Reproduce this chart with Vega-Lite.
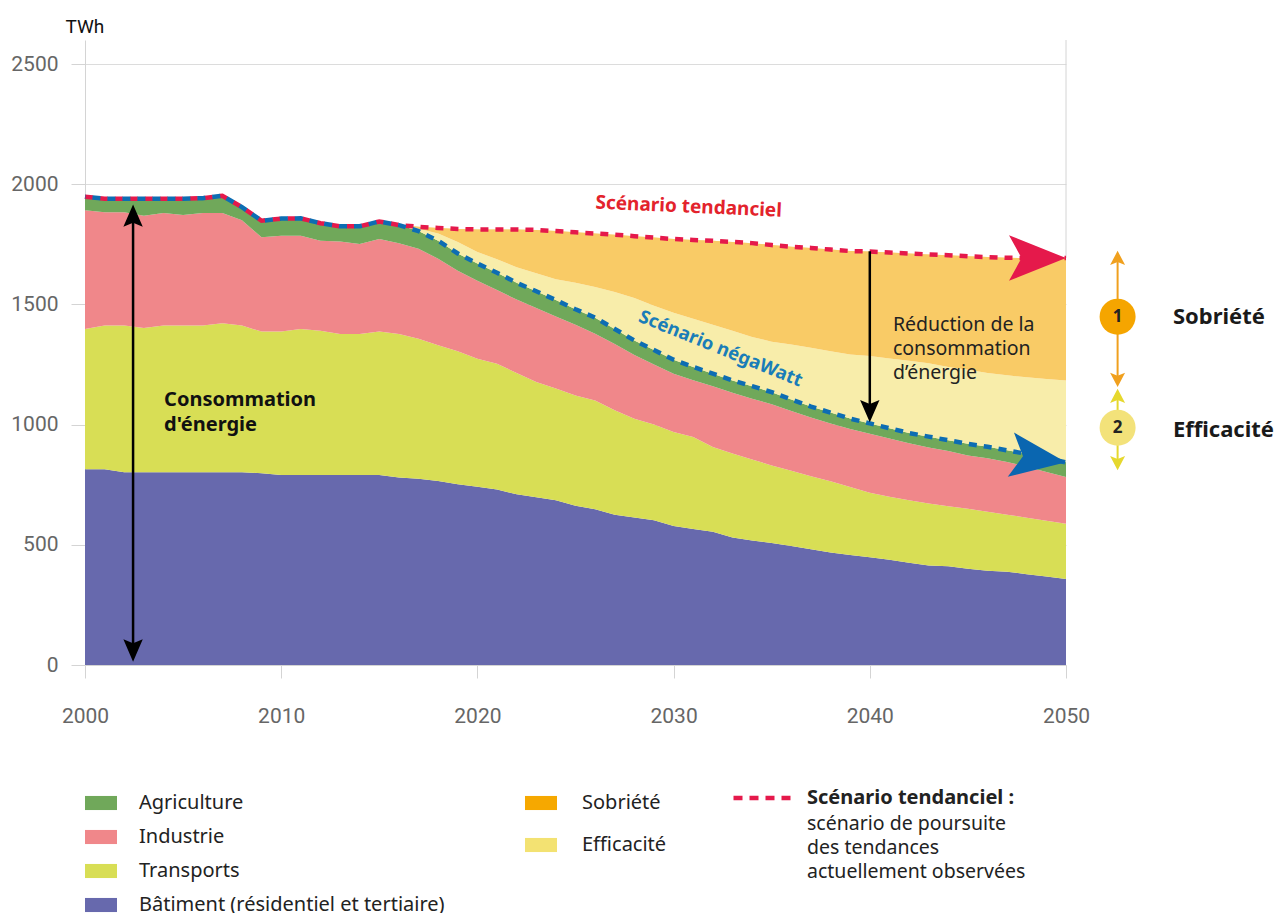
{
  "$schema": "https://vega.github.io/schema/vega-lite/v6.json",
  "width": 981,
  "height": 625,
  "autosize": {"type": "none"},
  "padding": {"left": 85, "top": 40, "right": 216, "bottom": 248},
  "background": "white",
  "config": {
    "view": {"stroke": null},
    "font": "Noto Sans",
    "legend": {"padding": 0, "labelFont": "Noto Sans", "labelFontSize": 20, "labelColor": "#222222", "labelLimit": 500, "symbolStrokeWidth": 0}
  },
  "data": {"values": [
    {"year": 2000, "bat_top": 814, "tra_top": 1398, "ind_top": 1892, "negawatt": 1948, "eff_top": 1948, "tendanciel": 1948},
    {"year": 2001, "bat_top": 814, "tra_top": 1412, "ind_top": 1883, "negawatt": 1940, "eff_top": 1940, "tendanciel": 1940},
    {"year": 2002, "bat_top": 802, "tra_top": 1412, "ind_top": 1883, "negawatt": 1940, "eff_top": 1940, "tendanciel": 1940},
    {"year": 2003, "bat_top": 802, "tra_top": 1402, "ind_top": 1869, "negawatt": 1940, "eff_top": 1940, "tendanciel": 1940},
    {"year": 2004, "bat_top": 802, "tra_top": 1412, "ind_top": 1880, "negawatt": 1940, "eff_top": 1940, "tendanciel": 1940},
    {"year": 2005, "bat_top": 802, "tra_top": 1412, "ind_top": 1872, "negawatt": 1940, "eff_top": 1940, "tendanciel": 1940},
    {"year": 2006, "bat_top": 802, "tra_top": 1412, "ind_top": 1880, "negawatt": 1942, "eff_top": 1942, "tendanciel": 1942},
    {"year": 2007, "bat_top": 802, "tra_top": 1422, "ind_top": 1880, "negawatt": 1952, "eff_top": 1952, "tendanciel": 1952},
    {"year": 2008, "bat_top": 802, "tra_top": 1412, "ind_top": 1850, "negawatt": 1905, "eff_top": 1905, "tendanciel": 1905},
    {"year": 2009, "bat_top": 798, "tra_top": 1387, "ind_top": 1779, "negawatt": 1848, "eff_top": 1848, "tendanciel": 1848},
    {"year": 2010, "bat_top": 790, "tra_top": 1387, "ind_top": 1786, "negawatt": 1857, "eff_top": 1857, "tendanciel": 1857},
    {"year": 2011, "bat_top": 790, "tra_top": 1398, "ind_top": 1786, "negawatt": 1858, "eff_top": 1858, "tendanciel": 1858},
    {"year": 2012, "bat_top": 790, "tra_top": 1391, "ind_top": 1765, "negawatt": 1838, "eff_top": 1838, "tendanciel": 1838},
    {"year": 2013, "bat_top": 790, "tra_top": 1377, "ind_top": 1762, "negawatt": 1825, "eff_top": 1825, "tendanciel": 1825},
    {"year": 2014, "bat_top": 790, "tra_top": 1377, "ind_top": 1751, "negawatt": 1825, "eff_top": 1825, "tendanciel": 1825},
    {"year": 2015, "bat_top": 790, "tra_top": 1387, "ind_top": 1772, "negawatt": 1845, "eff_top": 1845, "tendanciel": 1845},
    {"year": 2016, "bat_top": 780, "tra_top": 1377, "ind_top": 1755, "negawatt": 1830, "eff_top": 1830, "tendanciel": 1830},
    {"year": 2017, "bat_top": 775, "tra_top": 1357, "ind_top": 1732, "negawatt": 1805, "eff_top": 1815, "tendanciel": 1823},
    {"year": 2018, "bat_top": 765, "tra_top": 1330, "ind_top": 1690, "negawatt": 1765, "eff_top": 1795, "tendanciel": 1818},
    {"year": 2019, "bat_top": 752, "tra_top": 1305, "ind_top": 1640, "negawatt": 1712, "eff_top": 1760, "tendanciel": 1814},
    {"year": 2020, "bat_top": 742, "tra_top": 1274, "ind_top": 1598, "negawatt": 1670, "eff_top": 1718, "tendanciel": 1812},
    {"year": 2021, "bat_top": 730, "tra_top": 1253, "ind_top": 1560, "negawatt": 1632, "eff_top": 1688, "tendanciel": 1812},
    {"year": 2022, "bat_top": 710, "tra_top": 1215, "ind_top": 1520, "negawatt": 1590, "eff_top": 1655, "tendanciel": 1812},
    {"year": 2023, "bat_top": 698, "tra_top": 1177, "ind_top": 1485, "negawatt": 1555, "eff_top": 1630, "tendanciel": 1810},
    {"year": 2024, "bat_top": 685, "tra_top": 1150, "ind_top": 1450, "negawatt": 1518, "eff_top": 1605, "tendanciel": 1805},
    {"year": 2025, "bat_top": 662, "tra_top": 1121, "ind_top": 1415, "negawatt": 1480, "eff_top": 1590, "tendanciel": 1800},
    {"year": 2026, "bat_top": 648, "tra_top": 1100, "ind_top": 1378, "negawatt": 1445, "eff_top": 1572, "tendanciel": 1795},
    {"year": 2027, "bat_top": 625, "tra_top": 1060, "ind_top": 1335, "negawatt": 1398, "eff_top": 1552, "tendanciel": 1790},
    {"year": 2028, "bat_top": 614, "tra_top": 1024, "ind_top": 1290, "negawatt": 1350, "eff_top": 1527, "tendanciel": 1784},
    {"year": 2029, "bat_top": 602, "tra_top": 1000, "ind_top": 1250, "negawatt": 1310, "eff_top": 1494, "tendanciel": 1778},
    {"year": 2030, "bat_top": 578, "tra_top": 969, "ind_top": 1212, "negawatt": 1270, "eff_top": 1465, "tendanciel": 1772},
    {"year": 2031, "bat_top": 566, "tra_top": 948, "ind_top": 1185, "negawatt": 1240, "eff_top": 1440, "tendanciel": 1768},
    {"year": 2032, "bat_top": 554, "tra_top": 907, "ind_top": 1160, "negawatt": 1212, "eff_top": 1415, "tendanciel": 1765},
    {"year": 2033, "bat_top": 530, "tra_top": 880, "ind_top": 1133, "negawatt": 1184, "eff_top": 1391, "tendanciel": 1760},
    {"year": 2034, "bat_top": 518, "tra_top": 855, "ind_top": 1108, "negawatt": 1160, "eff_top": 1365, "tendanciel": 1755},
    {"year": 2035, "bat_top": 508, "tra_top": 830, "ind_top": 1085, "negawatt": 1135, "eff_top": 1345, "tendanciel": 1747},
    {"year": 2036, "bat_top": 495, "tra_top": 808, "ind_top": 1057, "negawatt": 1105, "eff_top": 1333, "tendanciel": 1740},
    {"year": 2037, "bat_top": 482, "tra_top": 785, "ind_top": 1030, "negawatt": 1075, "eff_top": 1320, "tendanciel": 1735},
    {"year": 2038, "bat_top": 468, "tra_top": 764, "ind_top": 1005, "negawatt": 1050, "eff_top": 1305, "tendanciel": 1728},
    {"year": 2039, "bat_top": 458, "tra_top": 740, "ind_top": 982, "negawatt": 1025, "eff_top": 1292, "tendanciel": 1722},
    {"year": 2040, "bat_top": 448, "tra_top": 717, "ind_top": 962, "negawatt": 1005, "eff_top": 1285, "tendanciel": 1720},
    {"year": 2041, "bat_top": 438, "tra_top": 700, "ind_top": 942, "negawatt": 985, "eff_top": 1275, "tendanciel": 1716},
    {"year": 2042, "bat_top": 425, "tra_top": 685, "ind_top": 922, "negawatt": 965, "eff_top": 1266, "tendanciel": 1712},
    {"year": 2043, "bat_top": 414, "tra_top": 672, "ind_top": 905, "negawatt": 950, "eff_top": 1255, "tendanciel": 1708},
    {"year": 2044, "bat_top": 411, "tra_top": 660, "ind_top": 890, "negawatt": 935, "eff_top": 1240, "tendanciel": 1705},
    {"year": 2045, "bat_top": 400, "tra_top": 650, "ind_top": 872, "negawatt": 920, "eff_top": 1228, "tendanciel": 1700},
    {"year": 2046, "bat_top": 392, "tra_top": 638, "ind_top": 860, "negawatt": 908, "eff_top": 1215, "tendanciel": 1697},
    {"year": 2047, "bat_top": 388, "tra_top": 625, "ind_top": 845, "negawatt": 893, "eff_top": 1205, "tendanciel": 1694},
    {"year": 2048, "bat_top": 378, "tra_top": 613, "ind_top": 825, "negawatt": 878, "eff_top": 1197, "tendanciel": 1693},
    {"year": 2049, "bat_top": 368, "tra_top": 600, "ind_top": 803, "negawatt": 860, "eff_top": 1190, "tendanciel": 1693},
    {"year": 2050, "bat_top": 358, "tra_top": 588, "ind_top": 782, "negawatt": 843, "eff_top": 1184, "tendanciel": 1693}
  ]},
  "layer": [
    {
      "mark": {"type": "area", "opacity": 1},
      "encoding": {
        "x": {"field": "year", "type": "quantitative",
          "scale": {"domain": [2000, 2050], "nice": false, "zero": false},
          "axis": {"title": null, "values": [2000, 2010, 2020, 2030, 2040, 2050], "format": "d", "grid": false,
            "labelFont": "Roboto", "labelFontSize": 21, "labelColor": "#666666", "labelPadding": 27,
            "tickSize": 13, "tickColor": "#d4d4d4", "domainColor": "#d4d4d4", "labelFlush": false}},
        "y": {"field": "bat_top", "type": "quantitative",
          "scale": {"domain": [0, 2600], "nice": false},
          "axis": {"title": "TWh", "values": [0, 500, 1000, 1500, 2000, 2500], "format": "d", "grid": true, "gridColor": "#dcdcdc",
            "labelFont": "Roboto", "labelFontSize": 21, "labelColor": "#666666", "labelPadding": 13,
            "tickSize": 14, "tickColor": "#d4d4d4", "domainColor": "#d4d4d4",
            "titleAngle": 0, "titleAlign": "left", "titleBaseline": "alphabetic", "titleX": -20, "titleY": -8,
            "titleFont": "Roboto", "titleFontSize": 19, "titleFontWeight": "normal", "titleColor": "#111111"}},
        "y2": {"datum": 0},
        "fill": {"datum": "Bâtiment (résidentiel et tertiaire)",
          "scale": {"domain": ["Agriculture", "Industrie", "Transports", "Bâtiment (résidentiel et tertiaire)"],
            "range": ["#70a85a", "#f0878a", "#d8de55", "#6769ad"]},
          "legend": {"title": null, "orient": "none", "legendX": 0, "legendY": 747,
            "symbolType": "M-1,-0.44 L1,-0.44 L1,0.44 L-1,0.44 Z", "symbolSize": 1024,
            "labelOffset": 22, "rowPadding": 8}}
      }
    },
    {
      "mark": {"type": "area", "opacity": 1},
      "encoding": {
        "x": {"field": "year", "type": "quantitative"},
        "y": {"field": "tra_top", "type": "quantitative"},
        "y2": {"field": "bat_top"},
        "fill": {"datum": "Transports"}
      }
    },
    {
      "mark": {"type": "area", "opacity": 1},
      "encoding": {
        "x": {"field": "year", "type": "quantitative"},
        "y": {"field": "ind_top", "type": "quantitative"},
        "y2": {"field": "tra_top"},
        "fill": {"datum": "Industrie"}
      }
    },
    {
      "mark": {"type": "area", "opacity": 1},
      "encoding": {
        "x": {"field": "year", "type": "quantitative"},
        "y": {"field": "negawatt", "type": "quantitative"},
        "y2": {"field": "ind_top"},
        "fill": {"datum": "Agriculture"}
      }
    },
    {
      "mark": {"type": "area"},
      "encoding": {
        "x": {"field": "year", "type": "quantitative"},
        "y": {"field": "eff_top", "type": "quantitative"},
        "y2": {"field": "negawatt"},
        "color": {"datum": "Efficacité",
          "scale": {"domain": ["Sobriété", "Efficacité"], "range": ["#f6a800", "#f3e272"]},
          "legend": {"title": null, "orient": "none", "legendX": 440, "legendY": 747,
            "symbolType": "M-1,-0.44 L1,-0.44 L1,0.44 L-1,0.44 Z", "symbolSize": 1024,
            "labelOffset": 25, "rowPadding": 16}}
      }
    },
    {
      "mark": {"type": "area"},
      "encoding": {
        "x": {"field": "year", "type": "quantitative"},
        "y": {"field": "tendanciel", "type": "quantitative"},
        "y2": {"field": "eff_top"},
        "color": {"datum": "Sobriété"}
      }
    },
    {
      "mark": {"type": "area", "color": "#ffffff", "opacity": 0.4},
      "encoding": {
        "x": {"field": "year", "type": "quantitative"},
        "y": {"field": "tendanciel", "type": "quantitative"},
        "y2": {"field": "negawatt"}
      }
    },
    {
      "data": {"values": [{}]},
      "mark": {"type": "rule", "color": "#d4d4d4", "strokeWidth": 1},
      "encoding": {
        "x": {"datum": 2050, "type": "quantitative"},
        "y": {"datum": 1693, "type": "quantitative"},
        "y2": {"datum": 2600}
      }
    },
    {
      "mark": {"type": "line", "strokeWidth": 4.5, "strokeDash": [8, 7]},
      "encoding": {
        "x": {"field": "year", "type": "quantitative"},
        "y": {"field": "tendanciel", "type": "quantitative"},
        "stroke": {"datum": "Scénario tendanciel",
          "scale": {"domain": ["Scénario tendanciel"], "range": ["#e5194b"]},
          "legend": {"title": null, "orient": "none", "legendX": 646, "legendY": 726,
            "symbolType": "stroke", "symbolSize": 3481, "symbolStrokeWidth": 4.5, "symbolDash": [9, 7],
            "labelOffset": 12, "labelFontWeight": "bold", "labelExpr": "datum.label + ' :'"}}
      }
    },
    {
      "mark": {"type": "line", "strokeWidth": 4.5, "strokeDash": [8, 7], "strokeDashOffset": 7.5, "color": "#0d6db3"},
      "encoding": {
        "x": {"field": "year", "type": "quantitative"},
        "y": {"field": "negawatt", "type": "quantitative"}
      }
    },
    {
      "data": {"values": [{}]},
      "mark": {"type": "point", "filled": true, "opacity": 1, "strokeWidth": 0, "color": "#e5194b",
        "shape": "M0,0 L-2,-0.8 L-1.56,0 L-2,0.8 Z", "size": 3249},
      "encoding": {
        "x": {"datum": 2050, "type": "quantitative"},
        "y": {"datum": 1693, "type": "quantitative"}
      }
    },
    {
      "data": {"values": [{}]},
      "mark": {"type": "point", "filled": true, "opacity": 1, "strokeWidth": 0, "color": "#0a66b0",
        "shape": "M0,0 L-2,-0.8 L-1.56,0 L-2,0.8 Z", "size": 3100, "angle": 8},
      "encoding": {
        "x": {"datum": 2050, "type": "quantitative"},
        "y": {"datum": 843, "type": "quantitative"}
      }
    },
    {
      "data": {"values": [{}]},
      "mark": {"type": "rule", "color": "#000000", "strokeWidth": 2.5},
      "encoding": {
        "x": {"datum": 2002.45, "type": "quantitative"},
        "y": {"datum": 40, "type": "quantitative"},
        "y2": {"datum": 1890}
      }
    },
    {
      "data": {"values": [{}]},
      "mark": {"type": "point", "filled": true, "opacity": 1, "strokeWidth": 0, "color": "#000000",
        "shape": "M0,0 L0.97,2.23 L0,1.83 L-0.97,2.23 Z", "size": 400},
      "encoding": {
        "x": {"datum": 2002.45, "type": "quantitative"},
        "y": {"datum": 1916, "type": "quantitative"}
      }
    },
    {
      "data": {"values": [{}]},
      "mark": {"type": "point", "filled": true, "opacity": 1, "strokeWidth": 0, "color": "#000000",
        "shape": "M0,0 L0.97,-2.23 L0,-1.83 L-0.97,-2.23 Z", "size": 400},
      "encoding": {
        "x": {"datum": 2002.45, "type": "quantitative"},
        "y": {"datum": 14, "type": "quantitative"}
      }
    },
    {
      "data": {"values": [{}]},
      "mark": {"type": "rule", "color": "#000000", "strokeWidth": 2.5},
      "encoding": {
        "x": {"datum": 2040, "type": "quantitative"},
        "y": {"datum": 1030, "type": "quantitative"},
        "y2": {"datum": 1721}
      }
    },
    {
      "data": {"values": [{}]},
      "mark": {"type": "point", "filled": true, "opacity": 1, "strokeWidth": 0, "color": "#000000",
        "shape": "M0,0 L0.97,-2.23 L0,-1.83 L-0.97,-2.23 Z", "size": 400},
      "encoding": {
        "x": {"datum": 2040, "type": "quantitative"},
        "y": {"datum": 1010, "type": "quantitative"}
      }
    },
    {
      "data": {"values": [{}]},
      "mark": {"type": "rule", "color": "#f0a01e", "strokeWidth": 2},
      "encoding": {
        "x": {"datum": 2052.63, "type": "quantitative"},
        "y": {"datum": 1180, "type": "quantitative"},
        "y2": {"datum": 1700}
      }
    },
    {
      "data": {"values": [{}]},
      "mark": {"type": "point", "filled": true, "opacity": 1, "strokeWidth": 0, "color": "#f0a01e",
        "shape": "M0,0 L1,1.9 L0,1.5 L-1,1.9 Z", "size": 225},
      "encoding": {
        "x": {"datum": 2052.63, "type": "quantitative"},
        "y": {"datum": 1723, "type": "quantitative"}
      }
    },
    {
      "data": {"values": [{}]},
      "mark": {"type": "point", "filled": true, "opacity": 1, "strokeWidth": 0, "color": "#f0a01e",
        "shape": "M0,0 L1,-1.9 L0,-1.5 L-1,-1.9 Z", "size": 225},
      "encoding": {
        "x": {"datum": 2052.63, "type": "quantitative"},
        "y": {"datum": 1156, "type": "quantitative"}
      }
    },
    {
      "data": {"values": [{}]},
      "mark": {"type": "rule", "color": "#e6d82e", "strokeWidth": 2},
      "encoding": {
        "x": {"datum": 2052.63, "type": "quantitative"},
        "y": {"datum": 830, "type": "quantitative"},
        "y2": {"datum": 1125}
      }
    },
    {
      "data": {"values": [{}]},
      "mark": {"type": "point", "filled": true, "opacity": 1, "strokeWidth": 0, "color": "#e6d82e",
        "shape": "M0,0 L1,1.9 L0,1.5 L-1,1.9 Z", "size": 225},
      "encoding": {
        "x": {"datum": 2052.63, "type": "quantitative"},
        "y": {"datum": 1149, "type": "quantitative"}
      }
    },
    {
      "data": {"values": [{}]},
      "mark": {"type": "point", "filled": true, "opacity": 1, "strokeWidth": 0, "color": "#e6d82e",
        "shape": "M0,0 L1,-1.9 L0,-1.5 L-1,-1.9 Z", "size": 225},
      "encoding": {
        "x": {"datum": 2052.63, "type": "quantitative"},
        "y": {"datum": 810, "type": "quantitative"}
      }
    },
    {
      "data": {"values": [{}]},
      "mark": {"type": "point", "filled": true, "opacity": 1, "strokeWidth": 0, "color": "#f5a500", "shape": "circle", "size": 1296},
      "encoding": {
        "x": {"datum": 2052.63, "type": "quantitative"},
        "y": {"datum": 1449, "type": "quantitative"}
      }
    },
    {
      "data": {"values": [{}]},
      "mark": {"type": "point", "filled": true, "opacity": 1, "strokeWidth": 0, "color": "#f3e27a", "shape": "circle", "size": 1296},
      "encoding": {
        "x": {"datum": 2052.63, "type": "quantitative"},
        "y": {"datum": 987, "type": "quantitative"}
      }
    },
    {
      "data": {"values": [{}]},
      "mark": {"type": "text", "text": "1", "font": "Noto Sans", "fontSize": 17, "fontWeight": "bold", "color": "#222222", "align": "center", "baseline": "middle"},
      "encoding": {
        "x": {"datum": 2052.63, "type": "quantitative"},
        "y": {"datum": 1449, "type": "quantitative"}
      }
    },
    {
      "data": {"values": [{}]},
      "mark": {"type": "text", "text": "2", "font": "Noto Sans", "fontSize": 17, "fontWeight": "bold", "color": "#222222", "align": "center", "baseline": "middle"},
      "encoding": {
        "x": {"datum": 2052.63, "type": "quantitative"},
        "y": {"datum": 987, "type": "quantitative"}
      }
    },
    {
      "data": {"values": [{}]},
      "mark": {"type": "text", "text": "Sobriété", "font": "Noto Sans", "fontSize": 22, "fontWeight": "bold", "color": "#1a1a1a", "align": "left", "baseline": "middle"},
      "encoding": {
        "x": {"datum": 2055.45, "type": "quantitative"},
        "y": {"datum": 1446, "type": "quantitative"}
      }
    },
    {
      "data": {"values": [{}]},
      "mark": {"type": "text", "text": "Efficacité", "font": "Noto Sans", "fontSize": 22, "fontWeight": "bold", "color": "#1a1a1a", "align": "left", "baseline": "middle"},
      "encoding": {
        "x": {"datum": 2055.45, "type": "quantitative"},
        "y": {"datum": 978, "type": "quantitative"}
      }
    },
    {
      "data": {"values": [{}]},
      "mark": {"type": "text", "text": "Consommation", "font": "Noto Sans", "fontSize": 20, "fontWeight": "bold", "color": "#111111", "align": "left", "baseline": "alphabetic"},
      "encoding": {
        "x": {"datum": 2004.03, "type": "quantitative"},
        "y": {"datum": 1077, "type": "quantitative"}
      }
    },
    {
      "data": {"values": [{}]},
      "mark": {"type": "text", "text": "d'énergie", "font": "Noto Sans", "fontSize": 20, "fontWeight": "bold", "color": "#111111", "align": "left", "baseline": "alphabetic"},
      "encoding": {
        "x": {"datum": 2004.03, "type": "quantitative"},
        "y": {"datum": 973, "type": "quantitative"}
      }
    },
    {
      "data": {"values": [{}]},
      "mark": {"type": "text", "text": "Réduction de la", "font": "Noto Sans", "fontSize": 19.5, "fontWeight": "normal", "color": "#222222", "align": "left", "baseline": "alphabetic"},
      "encoding": {
        "x": {"datum": 2041.18, "type": "quantitative"},
        "y": {"datum": 1391, "type": "quantitative"}
      }
    },
    {
      "data": {"values": [{}]},
      "mark": {"type": "text", "text": "consommation", "font": "Noto Sans", "fontSize": 19.5, "fontWeight": "normal", "color": "#222222", "align": "left", "baseline": "alphabetic"},
      "encoding": {
        "x": {"datum": 2041.18, "type": "quantitative"},
        "y": {"datum": 1291, "type": "quantitative"}
      }
    },
    {
      "data": {"values": [{}]},
      "mark": {"type": "text", "text": "d’énergie", "font": "Noto Sans", "fontSize": 19.5, "fontWeight": "normal", "color": "#222222", "align": "left", "baseline": "alphabetic"},
      "encoding": {
        "x": {"datum": 2041.18, "type": "quantitative"},
        "y": {"datum": 1191, "type": "quantitative"}
      }
    },
    {
      "data": {"values": [{}]},
      "mark": {"type": "text", "text": "Scénario tendanciel", "font": "Noto Sans", "fontSize": 19, "fontWeight": "bold", "color": "#e3232c", "align": "center", "baseline": "middle", "angle": 2.5},
      "encoding": {
        "x": {"datum": 2030.77, "type": "quantitative"},
        "y": {"datum": 1907, "type": "quantitative"}
      }
    },
    {
      "data": {"values": [{}]},
      "mark": {"type": "text", "text": "Scénario négaWatt", "font": "Noto Sans", "fontSize": 18.5, "fontWeight": "bold", "color": "#1a7db8", "align": "center", "baseline": "middle", "angle": 22},
      "encoding": {
        "x": {"datum": 2032.4, "type": "quantitative"},
        "y": {"datum": 1317, "type": "quantitative"}
      }
    },
    {
      "data": {"values": [{}]},
      "mark": {"type": "text", "text": "scénario de poursuite", "font": "Noto Sans", "fontSize": 19.5, "fontWeight": "normal", "color": "#222222", "align": "left", "baseline": "alphabetic"},
      "encoding": {
        "x": {"datum": 2036.8, "type": "quantitative"},
        "y": {"datum": -686, "type": "quantitative"}
      }
    },
    {
      "data": {"values": [{}]},
      "mark": {"type": "text", "text": "des tendances", "font": "Noto Sans", "fontSize": 19.5, "fontWeight": "normal", "color": "#222222", "align": "left", "baseline": "alphabetic"},
      "encoding": {
        "x": {"datum": 2036.8, "type": "quantitative"},
        "y": {"datum": -786, "type": "quantitative"}
      }
    },
    {
      "data": {"values": [{}]},
      "mark": {"type": "text", "text": "actuellement observées", "font": "Noto Sans", "fontSize": 19.5, "fontWeight": "normal", "color": "#222222", "align": "left", "baseline": "alphabetic"},
      "encoding": {
        "x": {"datum": 2036.8, "type": "quantitative"},
        "y": {"datum": -886, "type": "quantitative"}
      }
    }
  ]
}
